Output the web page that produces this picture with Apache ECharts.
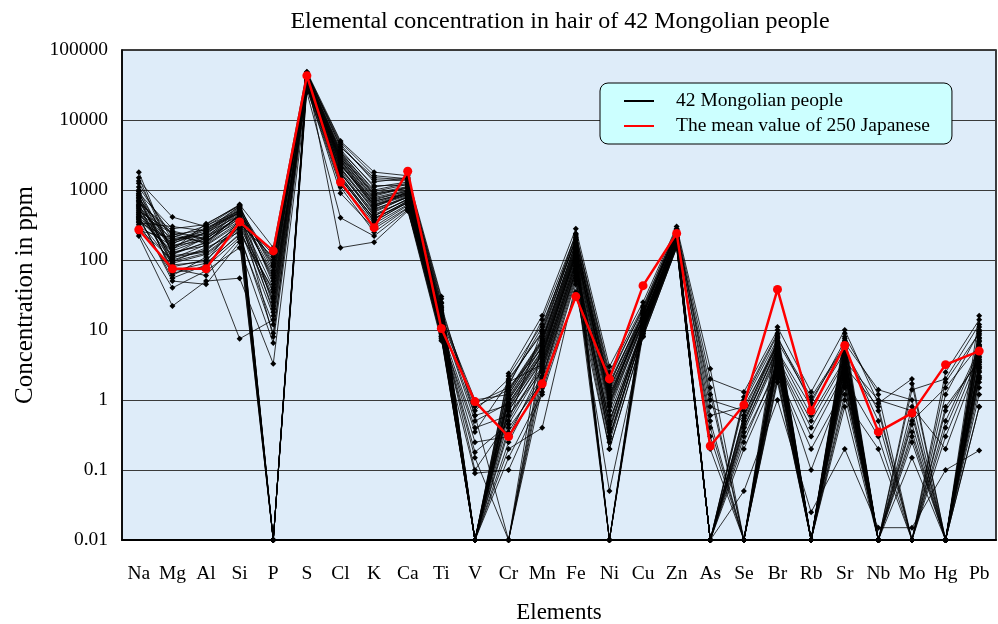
<!DOCTYPE html>
<html>
<head>
<meta charset="utf-8">
<title>Elemental concentration in hair</title>
<script src="https://cdn.jsdelivr.net/npm/echarts@6/dist/echarts.min.js"></script>
<style>
  html, body { margin: 0; padding: 0; background: #fff; }
  #main { width: 998px; height: 624px; }
</style>
</head>
<body>
<div id="main"></div>
<script>
var elements = ["Na", "Mg", "Al", "Si", "P", "S", "Cl", "K", "Ca", "Ti", "V", "Cr", "Mn",
  "Fe", "Ni", "Cu", "Zn", "As", "Se", "Br", "Rb", "Sr", "Nb", "Mo", "Hg", "Pb"];

// mean value of 250 Japanese (ppm)
var japaneseMean = [270, 75, 75, 350, 135, 43000, 1300, 290, 1850, 10.5, 0.95, 0.3, 1.7,
  30, 2.0, 43, 240, 0.22, 0.85, 38, 0.7, 6.0, 0.35, 0.65, 3.2, 5.0];

// 42 Mongolian people, one row per person, same order as elements (0.01 = not detected)
var mongolianHair = [
  [1800, 120, 210, 520, 0.01, 42000, 3200, 850, 1100, 15, 0.01, 1.2, 6.5, 160, 1.5, 14, 220, 0.01, 0.6, 6.5, 0.01, 4.5, 0.01, 0.6, 0.01, 6.2],
  [1350, 410, 300, 610, 45, 48000, 4100, 1500, 1400, 22, 0.6, 0.01, 8.0, 210, 0.9, 18, 260, 1.5, 0.01, 8.0, 0.9, 7.0, 0.01, 0.01, 1.2, 9.5],
  [1100, 220, 180, 450, 18, 38000, 2600, 620, 900, 12, 0.01, 0.8, 4.0, 120, 0.01, 12, 190, 0.01, 0.4, 4.5, 0.01, 3.0, 0.8, 0.01, 0.01, 3.5],
  [950, 85, 95, 380, 120, 36000, 1800, 420, 750, 9, 0.35, 1.8, 3.2, 95, 0.6, 11, 180, 0.5, 0.01, 3.5, 0.3, 2.5, 0.01, 0.3, 0.01, 2.8],
  [880, 150, 250, 560, 0.01, 45000, 3800, 1100, 1300, 18, 0.01, 0.5, 10, 240, 2.2, 20, 250, 0.01, 0.9, 7.5, 1.1, 6.0, 0.01, 1.4, 2.0, 12],
  [820, 60, 110, 300, 35, 33000, 1500, 350, 680, 11, 0.01, 0.01, 2.5, 70, 0.4, 10, 170, 0.01, 0.01, 3.0, 0.01, 2.0, 0.3, 0.01, 0.01, 2.2],
  [760, 180, 290, 480, 8, 40000, 2900, 780, 1000, 14, 0.9, 1.5, 5.5, 140, 1.1, 15, 230, 0.8, 0.5, 5.5, 0.01, 4.0, 0.01, 0.01, 0.5, 5.5],
  [700, 95, 150, 250, 0.01, 30000, 1200, 300, 600, 8, 0.01, 0.4, 1.8, 60, 0.01, 9, 160, 0.01, 0.2, 2.5, 0.2, 1.5, 0.01, 0.15, 0.01, 1.5],
  [650, 260, 200, 420, 60, 44000, 3500, 950, 1200, 20, 0.01, 2.2, 12, 190, 1.8, 17, 240, 0.01, 1.1, 9.0, 0.01, 8.0, 1.2, 0.01, 0.01, 10],
  [600, 140, 330, 600, 22, 41000, 2400, 560, 950, 13, 0.5, 0.9, 4.5, 110, 0.7, 13, 210, 0.3, 0.01, 4.0, 0.5, 3.5, 0.01, 0.8, 0.2, 4.0],
  [560, 75, 60, 200, 0.01, 35000, 1700, 480, 800, 10, 0.01, 0.6, 3.0, 85, 0.5, 10, 190, 0.01, 0.01, 3.2, 0.01, 2.2, 0.01, 0.01, 0.01, 3.0],
  [520, 200, 240, 540, 90, 47000, 4500, 1300, 1500, 25, 0.01, 1.3, 7.0, 180, 1.3, 16, 270, 1.0, 0.7, 7.0, 0.01, 5.5, 0.5, 0.01, 0.01, 7.5],
  [480, 110, 130, 7.5, 14, 32000, 1400, 400, 650, 9.5, 0.15, 0.01, 2.0, 65, 0.3, 9, 165, 0.01, 0.3, 2.8, 0.01, 1.8, 0.01, 0.01, 0.01, 2.0],
  [450, 240, 170, 400, 40, 39000, 2200, 700, 880, 16, 0.01, 1.0, 5.0, 130, 0.01, 14, 200, 0.01, 0.01, 5.0, 0.8, 4.8, 0.01, 0.5, 1.5, 6.0],
  [420, 50, 45, 180, 0.01, 28000, 1100, 250, 550, 7.5, 0.01, 0.15, 1.3, 50, 0.2, 8, 150, 0.01, 0.01, 2.0, 0.01, 1.2, 0.01, 0.01, 0.01, 1.2],
  [400, 170, 280, 470, 25, 43000, 3000, 880, 1050, 17, 0.7, 2.0, 9.0, 200, 1.6, 19, 255, 0.6, 0.8, 6.0, 0.01, 6.5, 1.4, 1.0, 0.01, 8.5],
  [380, 130, 160, 330, 110, 37000, 2000, 520, 820, 12, 0.01, 0.7, 3.8, 100, 0.8, 12, 200, 0.01, 0.35, 4.2, 0.01, 3.2, 0.01, 0.01, 0.7, 3.8],
  [360, 90, 120, 280, 0.01, 34000, 1600, 380, 700, 10, 0.25, 0.3, 2.8, 80, 0.01, 11, 185, 0.01, 0.01, 3.6, 0.4, 2.8, 0.01, 0.01, 0.01, 2.5],
  [340, 300, 260, 580, 70, 46000, 4800, 1600, 1450, 28, 0.01, 1.6, 14, 230, 2.5, 22, 280, 2.0, 1.3, 10, 0.01, 9.0, 0.01, 0.01, 2.5, 14],
  [320, 65, 80, 210, 12, 31000, 1300, 330, 620, 8.5, 0.01, 0.01, 1.5, 55, 0.25, 9.5, 160, 0.01, 0.01, 2.2, 0.01, 1.0, 0.2, 0.01, 0.01, 0.8],
  [300, 160, 190, 360, 30, 40000, 2700, 650, 920, 14, 0.01, 1.1, 6.0, 150, 1.0, 15, 215, 0.01, 0.5, 5.2, 0.01, 4.2, 0.01, 0.35, 0.01, 5.0],
  [280, 100, 140, 310, 0.01, 36000, 2100, 540, 780, 11, 0.1, 0.5, 3.5, 90, 0.35, 11, 195, 0.01, 0.01, 3.8, 0.01, 2.6, 0.01, 0.01, 0.01, 3.2],
  [260, 210, 310, 500, 80, 42000, 150, 180, 500, 13, 0.01, 0.9, 4.8, 125, 0.9, 13, 225, 0.2, 0.01, 4.8, 0.6, 3.8, 0.01, 0.01, 0.3, 4.5],
  [240, 40, 70, 150, 6.5, 29000, 900, 280, 560, 8, 0.01, 0.2, 0.4, 45, 0.05, 8.5, 155, 0.01, 0.05, 1.0, 0.025, 0.2, 0.015, 0.015, 0.1, 0.19],
  [220, 22, 50, 55, 3.3, 25000, 400, 220, 520, 7, 0.09, 0.1, 1.2, 35, 0.2, 8, 150, 0.01, 0.01, 1.8, 0.01, 0.8, 0.01, 0.01, 0.01, 0.8],
  [1250, 190, 230, 530, 50, 45000, 3400, 1000, 1250, 19, 0.8, 1.4, 7.5, 170, 1.4, 17, 245, 0.01, 0.6, 6.8, 1.0, 5.8, 0.01, 0.01, 0.01, 7.0],
  [1000, 125, 175, 440, 0.01, 39000, 2500, 600, 870, 13, 0.01, 0.01, 4.2, 115, 0.01, 12.5, 205, 0.01, 0.01, 4.6, 0.01, 3.4, 0.01, 0.01, 0.01, 4.2],
  [900, 280, 320, 620, 150, 49000, 5000, 1800, 1600, 30, 0.01, 2.4, 16, 280, 3.0, 25, 300, 2.8, 0.01, 11, 1.3, 10, 0.9, 2.0, 0.01, 16],
  [840, 80, 100, 270, 28, 34000, 1900, 450, 720, 10.5, 0.4, 0.6, 2.6, 75, 0.5, 10.5, 175, 0.01, 0.01, 3.4, 0.01, 2.4, 0.01, 0.01, 0.01, 2.6],
  [780, 145, 215, 410, 0.01, 41000, 2800, 720, 980, 15, 0.01, 1.0, 5.2, 135, 1.2, 14.5, 220, 0.01, 0.45, 5.8, 0.01, 4.6, 0.01, 0.45, 0.01, 5.8],
  [720, 105, 165, 350, 20, 37000, 2300, 580, 840, 12.5, 0.01, 0.7, 3.6, 105, 0.01, 12, 198, 0.4, 0.01, 4.4, 0.01, 3.0, 0.01, 0.01, 0.8, 3.6],
  [680, 230, 270, 590, 0.01, 46000, 4200, 1400, 1350, 24, 0.01, 1.7, 11, 220, 2.0, 21, 275, 0.01, 1.0, 8.5, 0.01, 7.5, 0.01, 1.7, 0.01, 11],
  [620, 70, 90, 230, 9, 32000, 1450, 360, 660, 9, 0.01, 0.35, 2.2, 68, 0.3, 9.5, 168, 0.01, 0.01, 2.6, 0.01, 1.6, 0.01, 0.01, 0.01, 1.8],
  [580, 160, 220, 460, 55, 43000, 3100, 820, 1080, 16, 1.0, 1.2, 6.8, 155, 1.7, 16.5, 235, 0.01, 0.55, 6.2, 0.01, 5.2, 0.7, 0.01, 0.01, 6.8],
  [540, 115, 135, 320, 0.01, 36000, 2050, 500, 790, 11.5, 0.01, 0.01, 3.3, 92, 0.45, 11.5, 188, 0.01, 0.01, 3.9, 0.01, 2.9, 0.01, 0.25, 0.01, 3.4],
  [500, 250, 195, 500, 85, 44000, 3600, 1150, 1180, 21, 0.01, 1.9, 9.5, 195, 0.01, 18.5, 258, 1.2, 0.01, 7.8, 0.01, 6.8, 0.01, 0.01, 1.8, 9.0],
  [470, 95, 125, 290, 16, 35000, 1750, 430, 740, 10, 0.18, 0.45, 2.9, 82, 0.38, 10.8, 182, 0.01, 0.25, 3.3, 0.01, 2.3, 0.01, 0.01, 0.01, 2.9],
  [440, 175, 245, 430, 0.01, 40000, 2650, 680, 940, 14.5, 0.01, 1.05, 5.8, 145, 1.15, 14.8, 218, 0.01, 0.01, 5.4, 0.01, 4.4, 0.01, 0.01, 0.4, 5.2],
  [410, 55, 85, 240, 38, 33000, 1550, 390, 690, 9.2, 0.01, 0.25, 2.1, 72, 0.28, 9.8, 172, 0.01, 0.01, 2.9, 0.1, 1.9, 0.01, 0.01, 0.01, 2.1],
  [390, 135, 205, 390, 0.01, 38000, 2350, 610, 860, 13.2, 0.6, 0.85, 4.4, 118, 0.85, 13.2, 208, 0.01, 0.4, 4.9, 0.01, 3.6, 1.0, 0.7, 0.01, 4.6],
  [350, 190, 260, 470, 65, 42000, 3300, 900, 1120, 17.5, 0.01, 1.35, 7.2, 175, 0.01, 17.2, 242, 0.01, 0.01, 6.6, 0.01, 5.6, 0.01, 0.01, 0.01, 7.8],
  [1500, 120, 180, 440, 100, 39000, 2900, 750, 960, 14, 0.01, 0.75, 4.6, 128, 1.05, 13.8, 212, 0.01, 0.01, 5.0, 0.01, 3.9, 0.01, 0.01, 0.01, 4.8]
];

var yTickLabels = ["0.01", "0.1", "1", "10", "100", "1000", "10000", "100000"];

var serif = "Liberation Serif";
var mongolName = "42 Mongolian people";
var japanName = "The mean value of 250 Japanese";

var myChart = echarts.init(document.getElementById("main"));

var series = [];
for (let i = 0; i < mongolianHair.length; i++) {
  series.push({
    name: mongolName,
    type: "line",
    data: mongolianHair[i],
    symbol: "diamond",
    symbolSize: 6,
    lineStyle: { color: "#000", width: 0.8 },
    itemStyle: { color: "#000" },
    z: 2
  });
}
series.push({
  name: japanName,
  type: "line",
  data: japaneseMean,
  symbol: "circle",
  symbolSize: 9,
  lineStyle: { color: "#ff0000", width: 2.5 },
  itemStyle: { color: "#ff0000" },
  z: 5
});

var option = {
  animation: false,
  title: {
    text: "Elemental concentration in hair of 42 Mongolian people",
    left: 555,
    textAlign: "center",
    top: 5,
    textStyle: { fontFamily: serif, fontSize: 24, fontWeight: "normal", color: "#000" }
  },
  legend: {
    data: [mongolName, japanName],
    orient: "vertical",
    left: 600,
    top: 83,
    icon: "rect",
    itemWidth: 30,
    itemHeight: 2,
    itemGap: 5,
    padding: [8, 22, 8, 24],
    backgroundColor: "#ccffff",
    borderColor: "#000",
    borderWidth: 1,
    borderRadius: 8,
    textStyle: { fontFamily: serif, fontSize: 19.5, color: "#000", padding: [0, 0, 0, 17] }
  },
  grid: {
    left: 122,
    right: 2,
    top: 50,
    bottom: 84,
    outerBoundsMode: "none",
    show: true,
    backgroundColor: "#deecf9",
    borderColor: "#000",
    borderWidth: 1.5
  },
  xAxis: {
    type: "category",
    data: elements,
    name: "Elements",
    nameLocation: "middle",
    nameGap: 61,
    nameTextStyle: { fontFamily: serif, fontSize: 23, color: "#000" },
    axisLine: { lineStyle: { color: "#000", width: 2 } },
    axisTick: { inside: true, length: 5, lineStyle: { color: "#000" } },
    axisLabel: { interval: 0, fontFamily: serif, fontSize: 19.5, color: "#000", margin: 24 }
  },
  yAxis: {
    type: "log",
    logBase: 10,
    min: 0.01,
    max: 100000,
    name: "Concentration in ppm",
    nameLocation: "middle",
    nameGap: 84,
    nameTextStyle: { fontFamily: serif, fontSize: 25, color: "#000" },
    axisLine: { show: true, lineStyle: { color: "#000", width: 1.5 } },
    axisTick: { show: false },
    axisLabel: {
      fontFamily: serif,
      fontSize: 19.5,
      color: "#000",
      margin: 14,
      formatter: function(v) {
        return yTickLabels[Math.round(Math.log10(v)) + 2];
      }
    },
    splitLine: { lineStyle: { color: "#3a3a3a", width: 1.2 } }
  },
  series: series
};

myChart.setOption(option);
</script>
</body>
</html>
